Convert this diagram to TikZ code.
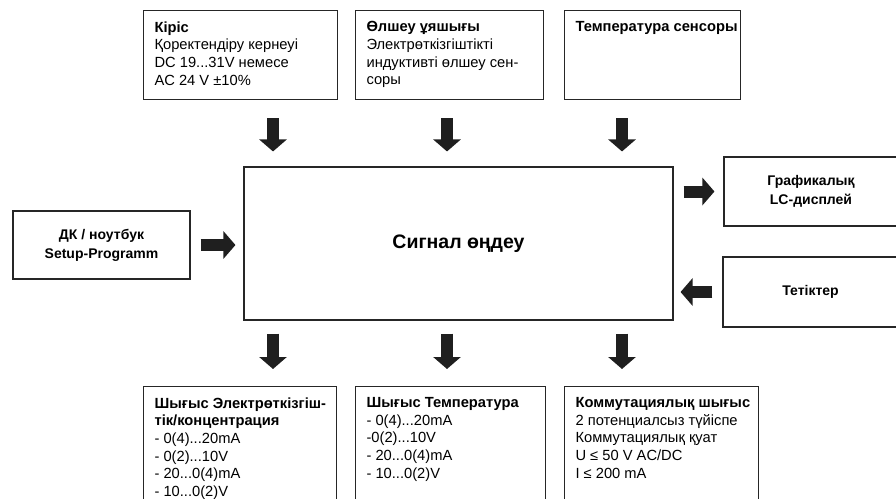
\documentclass[tikz,border=0pt]{standalone}
\usepackage{fontspec}
\setmainfont{Liberation Sans}
\usetikzlibrary{arrows.meta}

% text block in a box of given outer size, set from the top left
\newcommand{\inbox}[3]{\hspace*{10pt}\parbox[c][\dimexpr#2-22pt\relax][t]{\dimexpr#1-12pt\relax}{\raggedright#3}}

\begin{document}
\begin{tikzpicture}[
    x=1pt, y=-1pt,
    font=\fontsize{14.7}{17.6}\selectfont,
    blk/.style={draw=black!85, line width=1.1pt, fill=white, anchor=north west,
                inner xsep=1pt, inner ysep=11pt},
    mid/.style={draw=black!85, line width=1.1pt, fill=white, align=center,
                font=\fontsize{14}{19}\selectfont\bfseries},
    barr/.style={line width=12pt, black!88, -{Triangle[width=27pt,length=12pt]}}
  ]
  \useasboundingbox (0,0) rectangle (896,498);
  \clip (0,0) rectangle (896,498);

  % inputs
  \node[blk] (kiris) at (143,10) {\inbox{194pt}{89pt}{\textbf{Кіріс}\\
    Қоректендіру кернеуі\\DC 19...31V немесе\\AC 24 V ±10\%}};
  \node[blk] (olsheu) at (355,10) {\inbox{188pt}{89pt}{\textbf{Өлшеу ұяшығы}\\
    Электрөткізгіштікті\\индуктивті өлшеу сен-\\соры}};
  \node[blk] (tempr) at (564,10) {\inbox{176pt}{89pt}{\textbf{Температура сенсоры}}};

  % processing
  \node[mid, minimum width=429pt, minimum height=153pt] (signal) at (458.5,243.5)
    {\fontsize{19.5}{23}\selectfont Сигнал өңдеу};
  \node[mid, minimum width=177pt, minimum height=68pt] (dk) at (101.5,245)
    {ДК / ноутбук\\Setup-Programm};
  \node[mid, minimum width=174pt, minimum height=69pt] (lcd) at (811,191.5)
    {Графикалық\\LC-дисплей};
  \node[mid, minimum width=175pt, minimum height=70pt] (tet) at (810.5,292)
    {Тетіктер};

  % outputs
  \node[blk] (outa) at (143,386) {\inbox{193pt}{125pt}{\textbf{Шығыс Электрөткізгіш-}\\
    \textbf{тік/концентрация}\\- 0(4)...20mA\\- 0(2)...10V\\- 20...0(4)mA\\- 10...0(2)V}};
  \node[blk] (outb) at (355,386) {\inbox{190pt}{125pt}{\textbf{Шығыс Температура}\\
    - 0(4)...20mA\\-0(2)...10V\\- 20...0(4)mA\\- 10...0(2)V}};
  \node[blk] (outc) at (564,386) {\inbox{194pt}{125pt}{\textbf{Коммутациялық шығыс}\\
    2 потенциалсыз түйіспе\\Коммутациялық қуат\\U ≤ 50 V AC/DC\\I ≤ 200 mA}};

  % block arrows
  \foreach \ax [count=\i] in {273,447,622} \coordinate (ax\i) at (\ax,0);
  \draw[barr, shorten <=18pt, shorten >=15pt] (kiris.south -| ax1) -- (signal.north -| ax1);
  \draw[barr, shorten <=18pt, shorten >=15pt] (olsheu.south -| ax2) -- (signal.north -| ax2);
  \draw[barr, shorten <=18pt, shorten >=15pt] (tempr.south -| ax3) -- (signal.north -| ax3);
  \draw[barr, shorten <=13pt, shorten >=17pt] (signal.south -| ax1) -- (outa.north -| ax1);
  \draw[barr, shorten <=13pt, shorten >=17pt] (signal.south -| ax2) -- (outb.north -| ax2);
  \draw[barr, shorten <=13pt, shorten >=17pt] (signal.south -| ax3) -- (outc.north -| ax3);
  \draw[barr, shorten <=10pt, shorten >=8pt] (dk.east) -- (dk.east -| signal.west);
  \draw[barr, shorten <=10pt, shorten >=9pt] (signal.east |- lcd.west) -- (lcd.west);
  \draw[barr, shorten <=10pt, shorten >=7pt] (tet.west) -- (signal.east |- tet.west);
\end{tikzpicture}
\end{document}
